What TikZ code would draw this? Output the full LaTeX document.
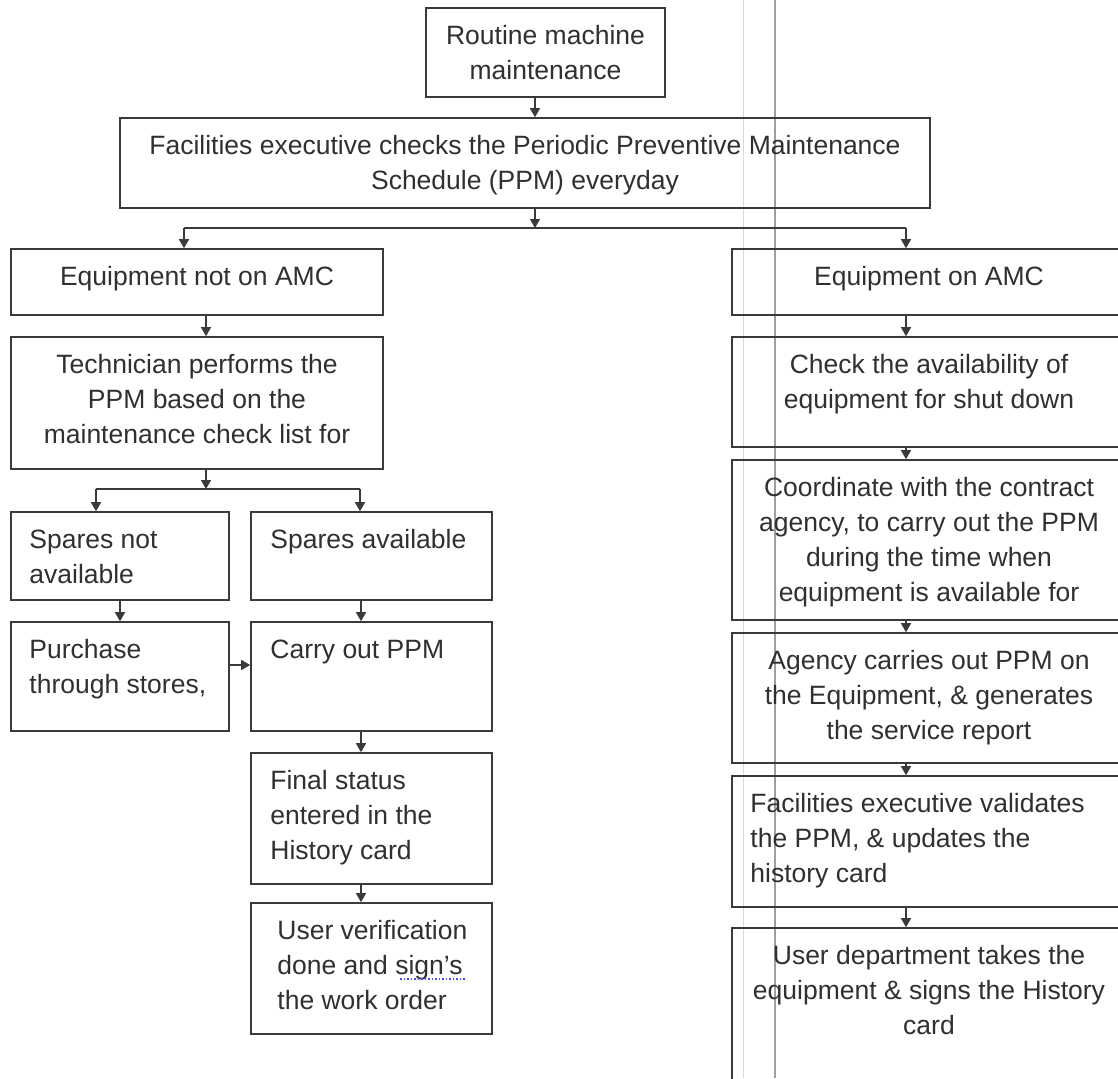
\documentclass[tikz,border=0pt]{standalone}
\usepackage{fontspec}
\setmainfont{Liberation Sans}
\usetikzlibrary{arrows.meta}
\definecolor{lc}{HTML}{3A3A3A}
\definecolor{tc}{HTML}{303030}
\newcommand\dfont{\fontsize{26.5pt}{35pt}\selectfont}
\newcommand\tstrut{\rule{0pt}{21pt}}
\begin{document}
\begin{tikzpicture}[x=1pt,y=-1pt,
  bx/.style={draw=lc, line width=1.6pt, inner sep=0pt, rectangle},
  tx/.style={inner sep=0pt, text=tc, font=\dfont, align=center, anchor=north},
  tl/.style={inner sep=0pt, text=tc, font=\dfont, align=left, anchor=north west},
  arr/.style={draw=lc, line width=1.4pt, -{Triangle[width=10pt,length=9pt]}},
  ln/.style={draw=lc, line width=1.4pt}]
\clip (0,0) rectangle (1118,1078);
\fill[white] (0,0) rectangle (1118,1078);
% scan artefact lines
\draw[gray!30, line width=1pt] (743,0) -- (743,1078);
\draw[gray!75, line width=1.3pt] (775,0) -- (775,1078);
% boxes
\node[bx, minimum width=239pt, minimum height=89pt] (b1) at (545.5,52.5) {};
\node[bx, minimum width=810pt, minimum height=90pt] (b2) at (525,163) {};
\node[bx, minimum width=372pt, minimum height=66pt] (b3) at (197,282) {};
\node[bx, minimum width=372pt, minimum height=132pt] (b4) at (197,403) {};
\node[bx, minimum width=218pt, minimum height=88pt] (b5) at (120,556) {};
\node[bx, minimum width=241pt, minimum height=88pt] (b6) at (371.5,556) {};
\node[bx, minimum width=218pt, minimum height=109pt] (b7) at (120,676.5) {};
\node[bx, minimum width=241pt, minimum height=109pt] (b8) at (371.5,676.5) {};
\node[bx, minimum width=241pt, minimum height=131pt] (b9) at (371.5,818.5) {};
\node[bx, minimum width=241pt, minimum height=131pt] (b10) at (371.5,968.5) {};
\node[bx, minimum width=394pt, minimum height=66pt] (r1) at (929,282) {};
\node[bx, minimum width=394pt, minimum height=110pt] (r2) at (929,392) {};
\node[bx, minimum width=394pt, minimum height=160pt] (r3) at (929,540) {};
\node[bx, minimum width=394pt, minimum height=130pt] (r4) at (929,698) {};
\node[bx, minimum width=394pt, minimum height=131pt] (r5) at (929,841.5) {};
\node[bx, minimum width=394pt, minimum height=167pt] (r6) at (929,1011.5) {};
% texts
\node[tx] (t1) at ([yshift=-16pt]b1.north) {\tstrut Routine machine\\maintenance};
\node[tx] (t2) at ([yshift=-16pt]b2.north) {\tstrut Facilities executive checks the Periodic Preventive Maintenance\\Schedule (PPM) everyday};
\node[tx] (t3) at ([yshift=-16pt]b3.north) {\tstrut Equipment not on AMC};
\node[tx] (t4) at ([yshift=-16pt]b4.north) {\tstrut Technician performs the\\PPM based on the\\maintenance check list for};
\node[tl] (t5) at ([xshift=19pt,yshift=-16pt]b5.north west) {\tstrut Spares not\\available};
\node[tl] (t6) at ([xshift=20pt,yshift=-16pt]b6.north west) {\tstrut Spares available};
\node[tl] (t7) at ([xshift=19pt,yshift=-16pt]b7.north west) {\tstrut Purchase\\through stores,};
\node[tl] (t8) at ([xshift=20pt,yshift=-16pt]b8.north west) {\tstrut Carry out PPM};
\node[tl] (t9) at ([xshift=20pt,yshift=-16pt]b9.north west) {\tstrut Final status\\entered in the\\History card};
\node[tl] (t10) at ([xshift=27pt,yshift=-16pt]b10.north west) {\tstrut User verification\\done and sign's\\the work order};
\node[tx] (s1) at ([yshift=-16pt]r1.north) {\tstrut Equipment on AMC};
\node[tx] (s2) at ([yshift=-16pt]r2.north) {\tstrut Check the availability of\\equipment for shut down};
\node[tx] (s3) at ([yshift=-16pt]r3.north) {\tstrut Coordinate with the contract\\agency, to carry out the PPM\\during the time when\\equipment is available for};
\node[tx] (s4) at ([yshift=-16pt]r4.north) {\tstrut Agency carries out PPM on\\the Equipment, \& generates\\the service report};
\node[tl] (s5) at ([xshift=19pt,yshift=-16pt]r5.north west) {\tstrut Facilities executive validates\\the PPM, \& updates the\\history card};
\node[tx] (s6) at ([yshift=-16pt]r6.north) {\tstrut User department takes the\\equipment \& signs the History\\card};
% spell-check squiggle
\draw[blue!70, dotted, line width=1.5pt] (400,979) -- (466,979);
% connectors
\coordinate (xa) at (535,0);
\draw[arr] (b1.south -| xa) -- (b2.north -| xa);
\coordinate (j1) at (535,228);
\coordinate (jl) at (184,228);
\coordinate (jr) at (906,228);
\draw[arr] (b2.south -| j1) -- (j1);
\draw[ln] (jl) -- (jr);
\draw[arr] (jl) -- (b3.north -| jl);
\draw[arr] (jr) -- (r1.north -| jr);
\coordinate (xb) at (206,0);
\draw[arr] (b3.south -| xb) -- (b4.north -| xb);
\coordinate (j2) at (206,489);
\coordinate (jl2) at (96,489);
\coordinate (jr2) at (360,489);
\draw[arr] (b4.south -| j2) -- (j2);
\draw[ln] (jl2) -- (jr2);
\draw[arr] (jl2) -- (b5.north -| jl2);
\draw[arr] (jr2) -- (b6.north -| jr2);
\coordinate (xc) at (120,0);
\draw[arr] (b5.south -| xc) -- (b7.north -| xc);
\coordinate (xd) at (361,0);
\draw[arr] (b6.south -| xd) -- (b8.north -| xd);
\draw[arr] (b8.south -| xd) -- (b9.north -| xd);
\draw[arr] (b9.south -| xd) -- (b10.north -| xd);
\coordinate (ye) at (0,665);
\draw[arr] (b7.east |- ye) -- (b8.west |- ye);
\coordinate (xr) at (906,0);
\draw[arr] (r1.south -| xr) -- (r2.north -| xr);
\draw[arr] (r2.south -| xr) -- (r3.north -| xr);
\draw[arr] (r3.south -| xr) -- (r4.north -| xr);
\draw[arr] (r4.south -| xr) -- (r5.north -| xr);
\draw[arr] (r5.south -| xr) -- (r6.north -| xr);
\end{tikzpicture}
\end{document}
